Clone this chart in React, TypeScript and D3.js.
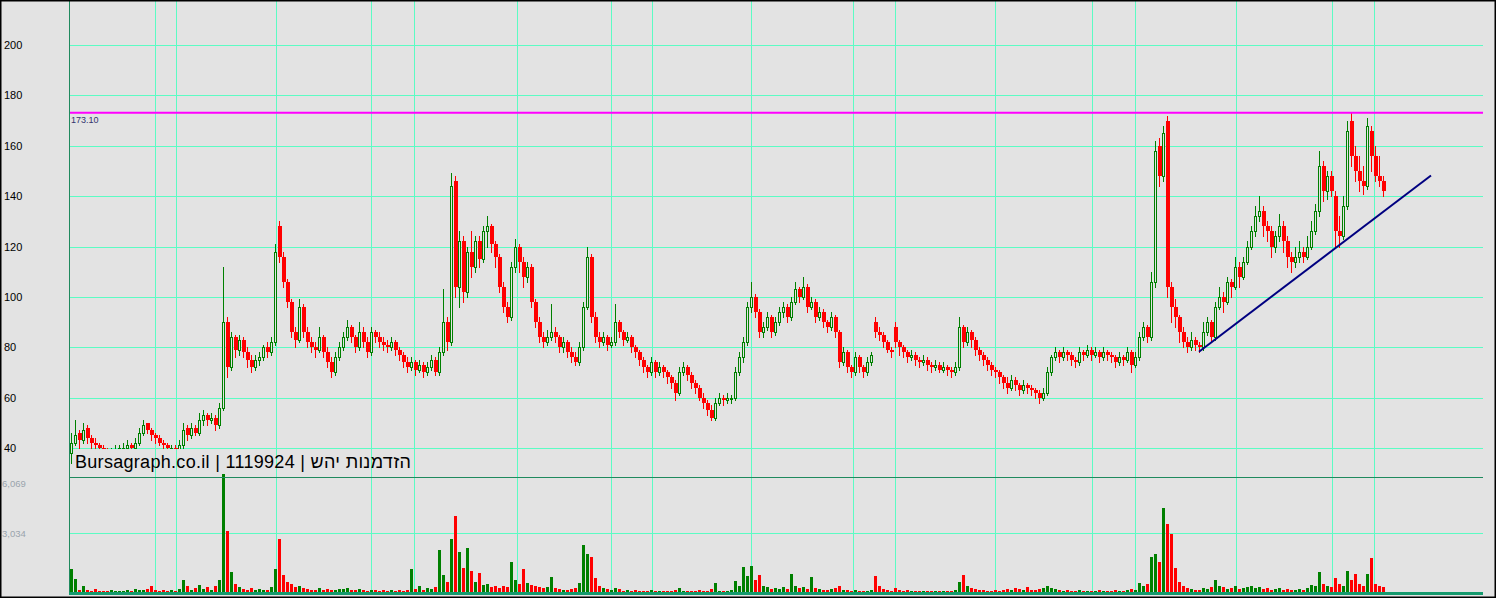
import React from "react";
import * as d3 from "d3";

// ---- Data ----
const open = [38,42,46,43,48,44,42,41,40,39,38,38,39,40,40,41,40,42,46,50,47,45,44,42,41,40,40,39,41,48,45,48,46,51,53,51,52,49,56,90,72,84,79,83,78,75,72,75,76,80,78,82,128,116,106,98,86,83,96,86,82,80,79,84,78,74,70,76,80,84,88,84,80,86,82,78,86,84,82,81,80,82,79,77,74,72,74,71,73,70,72,75,70,78,90,82,146,104,122,102,118,112,122,115,126,128,121,116,104,96,92,112,120,114,108,112,98,90,84,82,84,86,84,80,82,78,76,74,80,96,116,92,84,82,84,81,82,90,86,83,84,80,78,75,72,70,74,70,72,70,68,66,62,70,72,69,66,64,60,58,55,52,58,60,59,60,60,70,76,82,96,100,94,86,88,92,86,90,94,96,92,98,103,100,104,96,98,92,94,90,88,92,86,74,78,72,70,76,72,70,74,90,86,85,82,79,88,82,80,78,76,77,75,74,75,73,72,73,71,72,71,70,72,88,82,86,83,79,77,75,73,71,70,68,66,64,67,65,63,65,64,63,62,60,62,70,76,78,76,78,77,75,74,78,77,79,77,78,76,78,77,76,74,76,75,78,73,76,84,88,84,106,160,148,170,104,96,92,86,82,80,83,81,80,86,90,84,96,100,98,106,104,112,108,114,120,126,132,134,128,126,120,124,128,122,116,114,116,118,116,120,126,134,152,142,148,140,126,124,136,170,156,150,146,144,166,156,148,146];
const high = [46,51,47,50,49,45,44,42,41,40,40,41,41,42,43,42,44,48,51,50,48,46,45,43,42,41,41,43,50,49,50,49,54,55,54,54,53,58,112,92,86,85,85,84,80,77,77,78,81,82,84,121,130,118,107,99,88,99,97,88,84,82,88,85,80,76,78,82,86,91,89,85,90,88,84,88,87,86,84,83,84,83,80,78,76,76,75,75,74,74,77,76,80,103,92,149,148,126,124,120,126,124,124,128,132,129,122,117,106,98,114,123,121,116,114,113,99,92,86,87,97,88,85,84,83,80,78,82,98,120,117,94,86,86,85,84,97,91,87,86,85,81,79,76,73,76,75,74,73,71,69,67,72,74,73,70,67,65,62,59,57,60,62,61,62,61,72,78,84,98,106,101,95,90,94,93,92,96,98,97,100,106,104,108,105,100,99,96,95,91,94,93,87,80,79,73,78,77,73,76,78,92,88,86,83,80,90,83,81,79,79,78,76,77,76,74,75,74,74,73,72,74,92,89,88,87,84,80,78,76,74,72,71,69,68,69,68,66,67,66,65,64,63,64,72,77,80,79,80,79,78,76,80,79,81,80,80,79,80,79,78,77,78,77,80,79,78,86,90,89,110,162,163,168,172,106,99,93,88,84,86,84,82,90,92,91,98,104,102,108,107,116,114,116,122,128,136,140,136,130,128,126,133,130,124,118,120,122,120,124,130,137,158,154,150,150,142,132,140,170,173,160,156,152,171,168,160,156,148];
const low = [34,41,40,42,42,40,39,38,37,36,36,37,38,39,39,39,39,41,45,46,43,42,41,39,39,38,38,38,40,43,44,45,45,49,49,50,47,48,55,68,71,76,77,76,72,70,71,73,75,76,77,81,114,104,96,84,80,82,84,80,78,76,78,76,72,68,69,75,79,83,82,78,79,80,76,77,82,80,79,78,79,77,75,72,70,71,69,70,68,69,71,69,69,77,79,81,100,96,98,100,108,110,112,114,120,118,112,102,94,90,91,110,110,104,106,96,88,82,80,81,83,82,78,78,76,74,73,73,79,95,90,82,80,81,79,80,81,84,81,82,78,76,73,70,68,69,68,69,68,66,64,59,61,69,67,64,62,59,56,53,51,51,57,57,58,58,59,69,74,81,94,92,84,84,87,84,85,89,92,90,91,97,98,99,94,95,90,91,88,86,87,84,72,73,70,68,69,70,68,69,73,84,83,80,78,76,80,77,76,74,75,73,72,73,71,70,71,70,70,69,68,69,71,80,81,80,77,75,73,71,69,68,66,64,62,63,63,61,62,62,61,60,58,59,61,69,75,74,75,75,73,72,73,75,76,75,76,74,75,75,74,72,73,73,74,70,72,75,83,82,83,104,144,146,100,90,88,82,80,78,79,79,78,79,85,82,83,95,94,97,100,103,104,107,113,119,124,130,124,122,116,118,122,118,112,110,112,114,114,115,119,125,132,138,139,140,120,120,123,135,152,146,142,141,143,150,146,144,140];
const close = [42,45,43,47,44,42,41,40,39,38,38,39,40,40,41,40,42,46,49,47,45,44,42,41,40,40,39,41,47,45,48,46,51,53,51,52,49,56,90,72,84,79,83,78,75,72,75,76,80,78,82,118,116,106,98,86,83,96,86,82,80,79,84,78,74,70,76,80,84,88,84,80,86,82,78,86,84,82,81,80,82,79,77,74,72,74,71,73,70,72,75,70,78,90,82,144,104,122,102,118,112,122,115,126,128,121,116,104,96,92,112,120,114,108,112,98,90,84,82,84,86,84,80,82,78,76,74,80,96,116,92,84,82,84,81,82,90,86,83,84,80,78,75,72,70,74,70,72,70,68,66,62,70,72,69,66,64,60,58,55,52,58,60,59,60,60,70,76,82,96,100,94,86,88,92,86,90,94,96,92,98,103,100,104,96,98,92,94,90,88,92,86,74,78,72,70,76,72,70,74,77,86,85,82,79,78,82,80,78,76,77,75,74,75,73,72,73,71,72,71,70,72,88,82,86,83,79,77,75,73,71,70,68,66,64,67,65,63,65,64,63,62,60,62,70,76,78,76,78,77,75,74,78,77,79,77,78,76,78,77,76,74,76,75,78,73,76,84,88,84,106,158,148,165,104,96,92,86,82,80,83,81,80,86,90,84,96,100,98,106,104,112,108,114,120,126,132,134,128,126,120,124,128,122,116,114,116,118,116,120,126,134,152,142,148,142,126,124,136,166,156,150,146,144,168,156,148,146,142];
const volume = [1160,686,120,300,80,60,150,50,40,60,90,50,70,40,100,60,150,120,90,180,317,80,60,120,50,90,60,150,633,300,120,200,350,150,250,120,300,600,6069,3113,1003,400,250,150,120,200,100,150,90,120,250,1160,2744,900,500,400,250,300,200,150,120,100,200,80,150,120,100,180,150,200,120,100,150,90,60,120,80,60,100,50,80,60,120,70,90,1160,150,300,90,200,150,250,2164,900,500,2744,3905,2058,1214,2270,1100,500,1000,350,400,250,300,200,300,250,1530,600,400,1160,450,350,300,250,200,250,790,200,150,100,120,150,200,450,2427,1950,1794,700,300,200,150,100,200,150,60,80,50,100,60,40,50,90,40,60,30,40,60,80,200,50,40,60,30,80,60,40,150,475,60,50,40,80,580,300,1266,800,1320,600,897,300,250,150,200,180,250,150,950,300,200,250,150,790,200,150,120,100,150,200,300,120,80,60,100,50,40,60,80,845,300,150,100,60,200,100,60,80,50,40,60,40,50,60,40,30,50,40,60,100,500,897,300,200,150,100,80,60,50,80,60,100,150,120,200,150,100,250,120,100,150,200,300,200,150,100,60,80,50,60,100,50,60,40,50,80,40,60,50,80,40,60,100,150,120,475,300,400,1794,1950,1530,4327,3480,3000,1214,528,300,200,150,100,80,200,150,250,633,300,250,150,200,300,150,200,250,300,200,250,150,200,120,150,200,100,150,120,100,150,120,200,350,300,1003,400,300,250,739,400,300,1055,600,950,400,300,950,1741,400,300,250];

const priceTicks = [40, 60, 80, 100, 120, 140, 160, 180, 200];
const volumeTicks = [3034, 6069];
const volumeMax = 6069;
const resistance = 173.1;
// trend line anchors: candle index and price
const trendIdx = [282, 340];
const trendPrice = [78.2, 148.2];
// vertical grid markers, in candle index units
const gridIdx = [21, 26.25, 51.25, 75, 85.75, 111.5, 135, 145.25, 170, 195.5, 206, 231, 255.25, 266, 291.25, 315.25, 325.75];
const titleText = "Bursagraph.co.il | 1119924 | הזדמנות יהש";

// ---- Layout ----
const W = 1496;
const H = 598;
const L = 69;
const R = 1483;
const SEP = 477;
const BASE = 592;

const BG = "#e3e3e3";
const GRID = "#5cfcc4";
const AXIS = "#1f8a5e";
const UP = "#008000";
const DOWN = "#ff0000";

export default function App() {
  const N = close.length;
  const x = d3.scaleLinear().domain([0, N - 1]).range([71, 71 + 4 * (N - 1)]);
  const yP = d3.scaleLinear().domain([40, 200]).range([448, 45]);
  const yV = d3.scaleLinear().domain([0, volumeMax]).range([BASE, 474]);

  const candles = d3.range(N).map((i) => ({
    i,
    o: open[i],
    h: high[i],
    l: low[i],
    c: close[i],
    v: volume[i],
    up: close[i] >= open[i],
  }));

  const trendLine = d3
    .line<number>()
    .x((_, k) => x(trendIdx[k]))
    .y((p) => yP(p))(trendPrice) as string;

  const vx = (g: number) => Math.round(x(g)) + 0.5;

  return (
    <svg
      width={W}
      height={H}
      style={{ position: "absolute", left: 0, top: 0, display: "block" }}
      fontFamily="'Liberation Sans', Arial, sans-serif"
    >
      <rect x={0} y={0} width={W} height={H} fill={BG} />

      {/* grid */}
      <g shapeRendering="crispEdges">
        {priceTicks.map((t) => (
          <line key={"hp" + t} x1={L} x2={R} y1={Math.round(yP(t)) + 0.5} y2={Math.round(yP(t)) + 0.5} stroke={GRID} strokeWidth={1} />
        ))}
        {volumeTicks.slice(0, 1).map((t) => (
          <line key={"hv" + t} x1={L} x2={R} y1={Math.round(yV(t)) + 0.5} y2={Math.round(yV(t)) + 0.5} stroke={GRID} strokeWidth={1} />
        ))}
        {gridIdx.map((g) => (
          <line key={"v" + g} x1={vx(g)} x2={vx(g)} y1={0} y2={BASE} stroke={GRID} strokeWidth={1} />
        ))}
      </g>

      {/* candles */}
      <g shapeRendering="crispEdges">
        {candles.map((d) => {
          const cx = Math.round(x(d.i));
          const top = Math.round(yP(Math.max(d.o, d.c)));
          const bot = Math.round(yP(Math.min(d.o, d.c)));
          const col = d.up ? UP : DOWN;
          return (
            <g key={"c" + d.i}>
              <line x1={cx + 0.5} x2={cx + 0.5} y1={Math.round(yP(d.h))} y2={Math.round(yP(d.l)) + 1} stroke={col} strokeWidth={1} />
              {d.up ? (
                <rect x={cx - 0.5} y={top + 0.5} width={2} height={Math.max(1, bot - top)} fill={BG} stroke={col} strokeWidth={1} />
              ) : (
                <rect x={cx - 1} y={top} width={4} height={Math.max(2, bot - top)} fill={col} />
              )}
            </g>
          );
        })}
      </g>

      {/* resistance line */}
      <line x1={L} x2={R} y1={yP(resistance)} y2={yP(resistance)} stroke="#ff00ff" strokeWidth={2} />
      <text x={71} y={yP(resistance) + 10} fontSize={9} fill="#33336e">
        {resistance.toFixed(2)}
      </text>

      {/* trend line */}
      <path d={trendLine} stroke="#000080" strokeWidth={2} fill="none" />

      {/* title box */}
      <rect x={73} y={449} width={343} height={SEP - 449} fill={BG} />
      <g shapeRendering="crispEdges">
        {gridIdx.map((g) => (
          <line key={"vt" + g} x1={vx(g)} x2={vx(g)} y1={449} y2={SEP} stroke={GRID} strokeWidth={1} />
        ))}
      </g>
      <text x={75} y={468} fontSize={18} fill="#000" textLength={336} lengthAdjust="spacing">
        {titleText}
      </text>

      {/* volume bars */}
      <g shapeRendering="crispEdges">
        {candles.map((d) => {
          const cx = Math.round(x(d.i));
          const t = Math.round(yV(d.v));
          return <rect key={"vb" + d.i} x={cx - 1} y={t} width={3} height={Math.max(1, BASE - t)} fill={d.up ? UP : DOWN} />;
        })}
      </g>

      {/* axes / separators */}
      <g shapeRendering="crispEdges">
        <line x1={L + 0.5} x2={L + 0.5} y1={0} y2={BASE} stroke={AXIS} strokeWidth={1} />
        <line x1={L} x2={R} y1={SEP + 0.5} y2={SEP + 0.5} stroke={AXIS} strokeWidth={1} />
        <line x1={L} x2={R} y1={BASE + 1} y2={BASE + 1} stroke="#159a6e" strokeWidth={3} />
      </g>

      {/* axis labels */}
      {priceTicks.map((t) => (
        <text key={"pl" + t} x={4} y={yP(t) + 4} fontSize={11} fill="#000">
          {t}
        </text>
      ))}
      {volumeTicks.map((t) => (
        <text key={"vl" + t} x={2} y={Math.max(yV(t) + 4, 487)} fontSize={9.5} fill="#9aa3ad">
          {d3.format(",")(t)}
        </text>
      ))}

      {/* frame */}
      <rect x={0} y={0} width={W} height={H} fill="none" stroke="#000" strokeWidth={3} />
    </svg>
  );
}
